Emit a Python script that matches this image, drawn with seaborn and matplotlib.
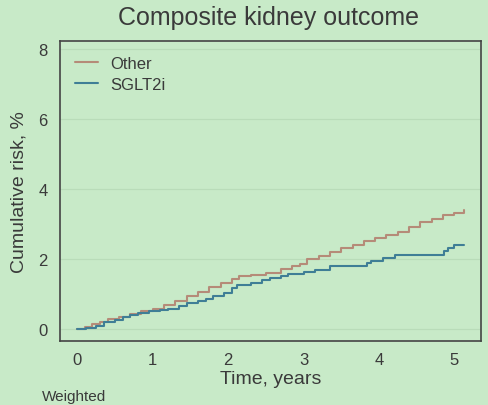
import numpy as np
import pandas as pd
import matplotlib
matplotlib.use('Agg')
import matplotlib.pyplot as plt
import seaborn as sns

# Step points (time in years, cumulative risk in %)
other_time = [0, 0.1, 0.2, 0.3, 0.4, 0.55, 0.7, 0.85, 1.0, 1.15, 1.3, 1.45, 1.6,
              1.75, 1.9, 2.05, 2.15, 2.3, 2.5, 2.7, 2.85, 2.95, 3.05, 3.2, 3.35,
              3.5, 3.65, 3.8, 3.95, 4.1, 4.25, 4.4, 4.55, 4.7, 4.85, 5.0, 5.13]
other_risk = [0, 0.04, 0.12, 0.2, 0.27, 0.33, 0.42, 0.5, 0.56, 0.68, 0.8, 0.92, 1.05,
              1.18, 1.3, 1.42, 1.5, 1.54, 1.6, 1.7, 1.78, 1.84, 1.98, 2.08, 2.2,
              2.3, 2.4, 2.5, 2.6, 2.68, 2.78, 2.92, 3.05, 3.15, 3.25, 3.32, 3.4]

sglt_time = [0, 0.12, 0.25, 0.35, 0.5, 0.6, 0.7, 0.8, 0.95, 1.1, 1.2, 1.35, 1.45,
             1.6, 1.7, 1.8, 1.95, 2.05, 2.12, 2.3, 2.45, 2.55, 2.7, 2.8, 3.0,
             3.15, 3.35, 3.84, 3.9, 4.05, 4.22, 4.87, 4.92, 5.0, 5.13]
sglt_risk = [0, 0.03, 0.08, 0.2, 0.24, 0.32, 0.38, 0.44, 0.5, 0.52, 0.57, 0.64, 0.72,
             0.78, 0.86, 0.93, 1.02, 1.15, 1.25, 1.3, 1.38, 1.44, 1.52, 1.57, 1.62,
             1.69, 1.8, 1.88, 1.95, 2.02, 2.1, 2.22, 2.3, 2.4, 2.4]

groups = ['Other', 'SGLT2i']
colors = {'Other': '#b58b78', 'SGLT2i': '#3f7e96'}
y_ticks = [0, 2, 4, 6, 8]
x_ticks = [0, 1, 2, 3, 4, 5]

df = pd.concat([
    pd.DataFrame({'time': other_time, 'risk': other_risk, 'group': 'Other'}),
    pd.DataFrame({'time': sglt_time, 'risk': sglt_risk, 'group': 'SGLT2i'}),
])

bg = '#c8eac8'
ink = '#3a3a3a'

sns.set_style('white')
plt.rcParams['font.family'] = ['Liberation Sans', 'DejaVu Sans']

fig = plt.figure(figsize=(4.88, 4.06), dpi=100, facecolor=bg)
ax = fig.add_axes([0.123, 0.158, 0.862, 0.739], facecolor=bg)

sns.lineplot(data=df, x='time', y='risk', hue='group', hue_order=groups,
             palette=colors, drawstyle='steps-post', estimator=None,
             linewidth=1.5, ax=ax)

ax.set_xlim(-0.23, 5.35)
ax.set_ylim(-0.35, 8.24)
ax.set_xticks(x_ticks)
ax.set_yticks(y_ticks)
ax.grid(axis='y', color='#b9dcb9', linewidth=0.9)
ax.set_axisbelow(True)

for sp in ax.spines.values():
    sp.set_color('#444444')
    sp.set_linewidth(1.2)
ax.tick_params(axis='both', direction='out', length=5, width=1.2,
               color='#444444', labelcolor=ink, labelsize=12, pad=3)
ax.tick_params(axis='y', pad=4)

ax.set_xlabel('Time, years', fontsize=14, color=ink, labelpad=2)
ax.set_ylabel('Cumulative risk, %', fontsize=14, color=ink, labelpad=8)

leg = ax.legend(loc='upper left', frameon=False, fontsize=12, handlelength=1.4,
                handletextpad=0.7, labelspacing=0.35, borderaxespad=0.5)
for t in leg.get_texts():
    t.set_color(ink)

fig.text(0.55, 0.955, 'Composite kidney outcome', ha='center', va='center',
         fontsize=18, color=ink)
fig.text(0.085, 0.006, 'Weighted', ha='left', va='bottom', fontsize=11, color=ink)

fig.savefig('out.png', dpi=100, facecolor=bg)
